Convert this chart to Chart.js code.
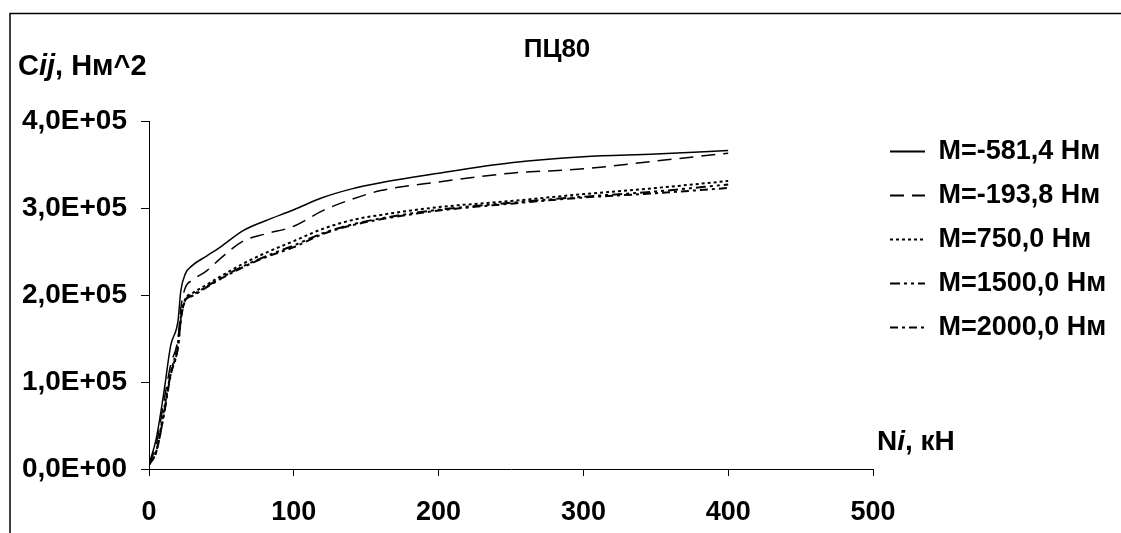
<!DOCTYPE html>
<html>
<head>
<meta charset="utf-8">
<script src="https://cdn.jsdelivr.net/npm/chart.js@4"></script>
<style>
  body { margin: 0; background: #fff; }
  canvas { display: block; }
</style>
</head>
<body>
<canvas id="c" width="1121" height="533"></canvas>
<script>
// axial force N, kN
const loads = [0, 5, 10, 15, 20, 22, 25, 30, 40, 50, 65, 80, 100, 120, 140, 160, 200, 250, 300, 350, 400];

// stiffness C, N*m^2 for each moment
const cM581 = [5000, 35000, 85000, 142000, 170000, 205000, 224000, 234000, 245000, 256000, 274000, 285000, 298000, 312000, 322000, 329000, 340000, 352000, 359000, 362000, 366000];
const cM193 = [5000, 28000, 75000, 120000, 150000, 185000, 208000, 217000, 228000, 243000, 262000, 270000, 279000, 297000, 310000, 320000, 330000, 340000, 345000, 354000, 363000];
const cM750 = [5000, 20000, 65000, 110000, 145000, 175000, 195000, 202000, 212000, 222000, 236000, 248000, 262000, 276000, 286000, 292000, 301000, 308000, 316000, 323000, 331000];
const cM1500 = [5000, 20000, 60000, 110000, 140000, 172000, 194000, 200000, 210000, 220000, 233000, 244000, 257000, 271000, 281000, 288000, 298000, 306000, 313000, 319000, 327000];
const cM2000 = [5000, 20000, 60000, 108000, 140000, 172000, 193000, 199000, 209000, 219000, 232000, 243000, 255000, 270000, 280000, 287000, 297000, 305000, 312000, 317000, 323000];

const seriesNames = ["M=-581,4 Нм", "M=-193,8 Нм", "M=750,0 Нм", "M=1500,0 Нм", "M=2000,0 Нм"];
const xTicks = [0, 100, 200, 300, 400, 500];
const yTicks = [0, 100000, 200000, 300000, 400000];

const FONT = "Arial, 'Liberation Sans', sans-serif";

function sci(v) {
  if (v === 0) return "0,0E+00";
  const e = Math.floor(Math.log10(v));
  const m = v / Math.pow(10, e);
  return m.toFixed(1).replace(".", ",") + "E+" + String(e).padStart(2, "0");
}

function pts(ys) {
  return loads.map((x, i) => ({ x: x, y: ys[i] }));
}

const styles = [
  { dash: [], width: 1.5 },
  { dash: [14, 8], width: 1.5 },
  { dash: [3, 3], width: 2 },
  { dash: [10, 4, 3, 4, 3, 4], width: 2 },
  { dash: [8, 4, 3, 4], width: 2 }
];
const values = [cM581, cM193, cM750, cM1500, cM2000];

const datasets = values.map((ys, i) => ({
  label: seriesNames[i],
  data: pts(ys),
  borderColor: "#000",
  backgroundColor: "#000",
  borderWidth: styles[i].width,
  borderDash: styles[i].dash,
  pointRadius: 0,
  cubicInterpolationMode: "monotone",
  fill: false
}));

function richText(ctx, parts, x, y, size) {
  let cx = x;
  ctx.textBaseline = "middle";
  ctx.textAlign = "left";
  for (const p of parts) {
    ctx.font = (p.italic ? "italic " : "") + "bold " + size + "px " + FONT;
    ctx.fillText(p.t, cx, y);
    cx += ctx.measureText(p.t).width;
  }
}

const decor = {
  id: "decor",
  afterDraw(chart) {
    const ctx = chart.ctx;
    ctx.save();
    ctx.strokeStyle = "#000";
    ctx.lineWidth = 1.5;
    ctx.beginPath();
    ctx.moveTo(10, 540);
    ctx.lineTo(10, 13.5);
    ctx.lineTo(1130, 13.5);
    ctx.stroke();
    ctx.fillStyle = "#000";
    ctx.font = "bold 26px " + FONT;
    ctx.textAlign = "center";
    ctx.textBaseline = "middle";
    ctx.fillText("ПЦ80", 557, 50);
    richText(ctx, [{ t: "C" }, { t: "ij", italic: true }, { t: ", Нм^2" }], 18, 67, 29);
    richText(ctx, [{ t: "N" }, { t: "i", italic: true }, { t: ", кН" }], 877, 442, 28);
    ctx.restore();
  }
};

const chart = new Chart(document.getElementById("c"), {
  type: "line",
  data: { datasets: datasets },
  plugins: [decor],
  options: {
    responsive: false,
    animation: false,
    devicePixelRatio: 1,
    layout: { padding: { left: 10, top: 121, right: 0, bottom: 0 } },
    plugins: {
      title: { display: false },
      tooltip: { enabled: false },
      legend: {
        position: "right",
        align: "start",
        labels: {
          color: "#000",
          font: { family: FONT, size: 27, weight: "bold" },
          usePointStyle: true,
          pointStyle: "line",
          pointStyleWidth: 35,
          padding: 17,
          generateLabels: (ch) => {
            const items = Chart.defaults.plugins.legend.labels.generateLabels(ch);
            items.forEach((it, i) => {
              it.lineDash = ch.data.datasets[i].borderDash;
              it.lineWidth = 2;
              it.strokeStyle = "#000";
            });
            return items;
          }
        }
      }
    },
    scales: {
      x: {
        type: "linear",
        min: 0,
        max: 500,
        afterBuildTicks: (s) => { s.ticks = xTicks.map(v => ({ value: v })); },
        afterFit: (s) => { s.height = 64; },
        grid: { drawOnChartArea: false, drawTicks: true, tickLength: 7, color: "#000" },
        border: { color: "#000", width: 1 },
        ticks: {
          color: "#000",
          padding: 20,
          maxRotation: 0,
          font: { family: FONT, size: 27, weight: "bold" }
        }
      },
      y: {
        min: 0,
        max: 400000,
        afterBuildTicks: (s) => { s.ticks = yTicks.map(v => ({ value: v })); },
        afterFit: (s) => { s.width = 139; },
        grid: { drawOnChartArea: false, drawTicks: true, tickLength: 8, color: "#000" },
        border: { color: "#000", width: 1 },
        ticks: {
          color: "#000",
          padding: 14,
          callback: (v) => sci(v),
          font: { family: FONT, size: 28, weight: "bold" }
        }
      }
    }
  }
});

// keep the plot's right edge at the same place as in the source
const lw = chart.legend.width;
chart.options.layout.padding.right = Math.max(0, 1121 - 873 - lw);
chart.update();
</script>
</body>
</html>
